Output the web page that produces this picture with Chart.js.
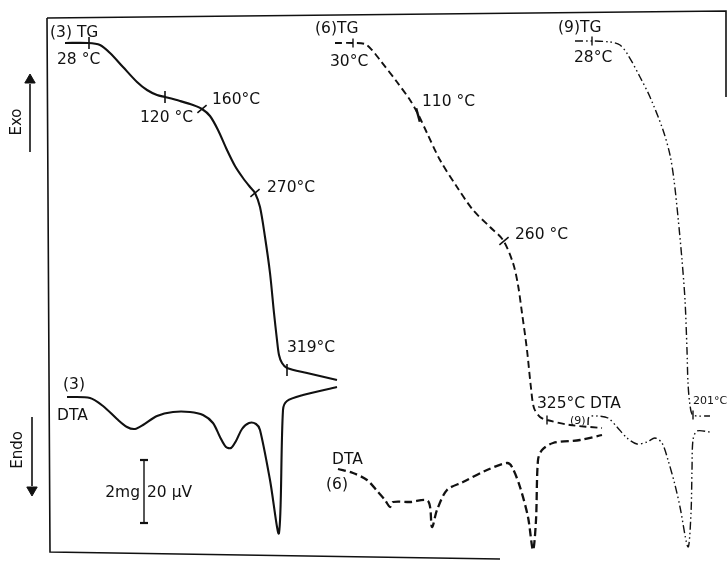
<!DOCTYPE html>
<html>
<head>
<meta charset="utf-8">
<script src="https://cdn.jsdelivr.net/npm/chart.js@4/dist/chart.umd.min.js"></script>
<style>
  html, body { margin: 0; padding: 0; background: #fff; }
  #wrap { width: 727px; height: 561px; }
</style>
</head>
<body>
<div id="wrap"><canvas id="c" width="727" height="561"></canvas></div>
<script>
// Recorder traces in sheet units: x across the sheet, y down from the top edge.
const tg3 = [[65,43],[88,43],[100,45],[110,53],[123,67],[137,82],[147,90],[157,95],[165,97],[180,101],[193,105],[202,109],[210,116],[218,130],[227,150],[235,166],[243,178],[250,187],[255,193],[260,207],[265,237],[270,273],[274,313],[277,340],[279,355],[282,363],[287,368],[307,373],[337,380]];
const dta3 = [[67,397],[90,398],[103,406],[117,419],[127,427],[135,429],[143,425],[157,416],[173,412],[190,412],[203,415],[213,423],[220,437],[226,447],[231,448],[236,441],[242,429],[249,423],[256,424],[260,430],[270,480],[279,533],[283,410],[287,401],[303,395],[337,387]];
const tg6 = [[335,43],[353,43],[365,44],[372,50],[380,60],[397,82],[410,100],[418,114],[427,133],[440,160],[457,187],[473,210],[490,227],[503,240],[513,263],[518,285],[522,313],[527,350],[531,388],[534,408],[540,417],[547,420],[570,425],[602,428]];
const dta6 = [[338,469],[353,473],[367,480],[378,492],[385,500],[390,507],[393,502],[410,502],[428,501],[432,527],[437,510],[447,490],[463,482],[487,470],[507,463],[512,467],[520,487],[528,517],[533,550],[536,520],[538,460],[542,450],[553,443],[580,440],[602,435]];
const tg9 = [[575,41],[592,41],[610,42],[620,45],[628,55],[640,77],[650,97],[663,130],[670,155],[674,180],[678,217],[682,260],[685,300],[687,350],[688,383],[690,405],[693,415],[710,416]];
const dta9 = [[588,425],[589,417],[597,416],[608,418],[617,427],[627,438],[637,444],[647,442],[655,438],[662,443],[668,460],[675,485],[680,507],[688,547],[691,513],[692,470],[693,440],[697,431],[710,432]];

// Temperature marks on the TG traces
const marksUpright = [[89,43],[165,97],[287,370]];
const marksSmall = [[353,43],[547,420],[592,41],[693,415]];
const marksSlant = [[202,109],[255,193],[504,241]];
const marksSteep = [[418,115]];

// Frame of the recorder sheet, scale bar and direction arrows
const frameTop = [[47,18],[726,11],[726,97]];
const frameLeft = [[47,18],[50,552],[500,559]];
const scaleBar = [[144,460],[144,523]];
const exoArrow = [[30,152],[30,84]];
const endoArrow = [[32,417],[32,486]];

// Text on the sheet: [text, x, y]
const labels = [
  ['(3) TG', 50, 33], ['28 °C', 57, 60], ['120 °C', 140, 118], ['160°C', 212, 100],
  ['270°C', 267, 188], ['319°C', 287, 348], ['(3)', 63, 385], ['DTA', 57, 416],
  ['20 µV', 147, 493], ['(6)TG', 315, 29], ['30°C', 330, 62], ['110 °C', 422, 102],
  ['260 °C', 515, 235], ['325°C DTA', 537, 404], ['DTA', 332, 460], ['(6)', 326, 485],
  ['(9)TG', 558, 28], ['28°C', 574, 58]
];
const smallLabels = [['(9)', 570, 421], ['201°C', 693, 401]];
const rightLabels = [['2mg', 140, 493]];
const sideLabels = [['Exo', 17, 122], ['Endo', 18, 450]];

const pts = a => a.map(([x, y]) => ({x, y}));
const INK = '#111';

function trace(data, width, dash, tension) {
  return { data: pts(data), showLine: true, borderColor: INK, borderWidth: width,
           borderDash: dash || [], tension: tension === undefined ? 0.3 : tension,
           pointRadius: 0, fill: false };
}
function marks(data, radius, rotation, width) {
  return { data: pts(data), showLine: false, pointStyle: 'line', pointRadius: radius,
           rotation: rotation, borderColor: INK, borderWidth: width || 1.6, backgroundColor: INK };
}

const datasets = [
  trace(frameTop, 1.6, [], 0),
  trace(frameLeft, 1.6, [], 0),
  trace(tg3, 2.1),
  trace(dta3, 2.1),
  trace(tg6, 1.9, [7, 4]),
  trace(dta6, 2.3, [8, 4]),
  trace(tg9, 1.4, [8, 3, 1.5, 3, 1.5, 3]),
  trace(dta9, 1.4, [8, 3, 1.5, 3, 1.5, 3]),
  trace(scaleBar, 1.4, [], 0),
  marks([scaleBar[0], scaleBar[1]], 4, 0, 2.2),
  trace(exoArrow, 1.6, [], 0),
  trace(endoArrow, 1.6, [], 0),
  { data: pts([[30, 80]]), showLine: false, pointStyle: 'triangle', pointRadius: 6,
    rotation: 0, backgroundColor: INK, borderColor: INK, borderWidth: 1 },
  { data: pts([[32, 490]]), showLine: false, pointStyle: 'triangle', pointRadius: 6,
    rotation: 180, backgroundColor: INK, borderColor: INK, borderWidth: 1 },
  marks(marksUpright, 6, 90),
  marks(marksSmall, 4.5, 90, 1.4),
  marks(marksSlant, 6, -40),
  marks(marksSteep, 7, 75, 2.4)
];

const sheetText = {
  id: 'sheetText',
  afterDatasetsDraw(chart) {
    const { ctx, scales: { x, y } } = chart;
    const put = (list, font, align) => {
      ctx.font = font;
      ctx.textAlign = align;
      for (const [t, vx, vy] of list) ctx.fillText(t, x.getPixelForValue(vx), y.getPixelForValue(vy));
    };
    ctx.save();
    ctx.fillStyle = INK;
    ctx.textBaseline = 'middle';
    put(labels, '15.5px "DejaVu Sans"', 'left');
    put(rightLabels, '15.5px "DejaVu Sans"', 'right');
    put(smallLabels, '11px "DejaVu Sans"', 'left');
    ctx.font = '15px "DejaVu Sans"';
    ctx.textAlign = 'center';
    for (const [t, vx, vy] of sideLabels) {
      ctx.save();
      ctx.translate(x.getPixelForValue(vx), y.getPixelForValue(vy));
      ctx.rotate(-Math.PI / 2);
      ctx.fillText(t, 0, 0);
      ctx.restore();
    }
    ctx.restore();
  }
};

new Chart(document.getElementById('c'), {
  type: 'scatter',
  data: { datasets },
  options: {
    responsive: false,
    animation: false,
    layout: { padding: 0, autoPadding: false },
    plugins: { legend: { display: false }, tooltip: { enabled: false } },
    scales: {
      x: { type: 'linear', min: 0, max: 727, display: false },
      y: { type: 'linear', min: 0, max: 561, reverse: true, display: false }
    }
  },
  plugins: [sheetText]
});
</script>
</body>
</html>
